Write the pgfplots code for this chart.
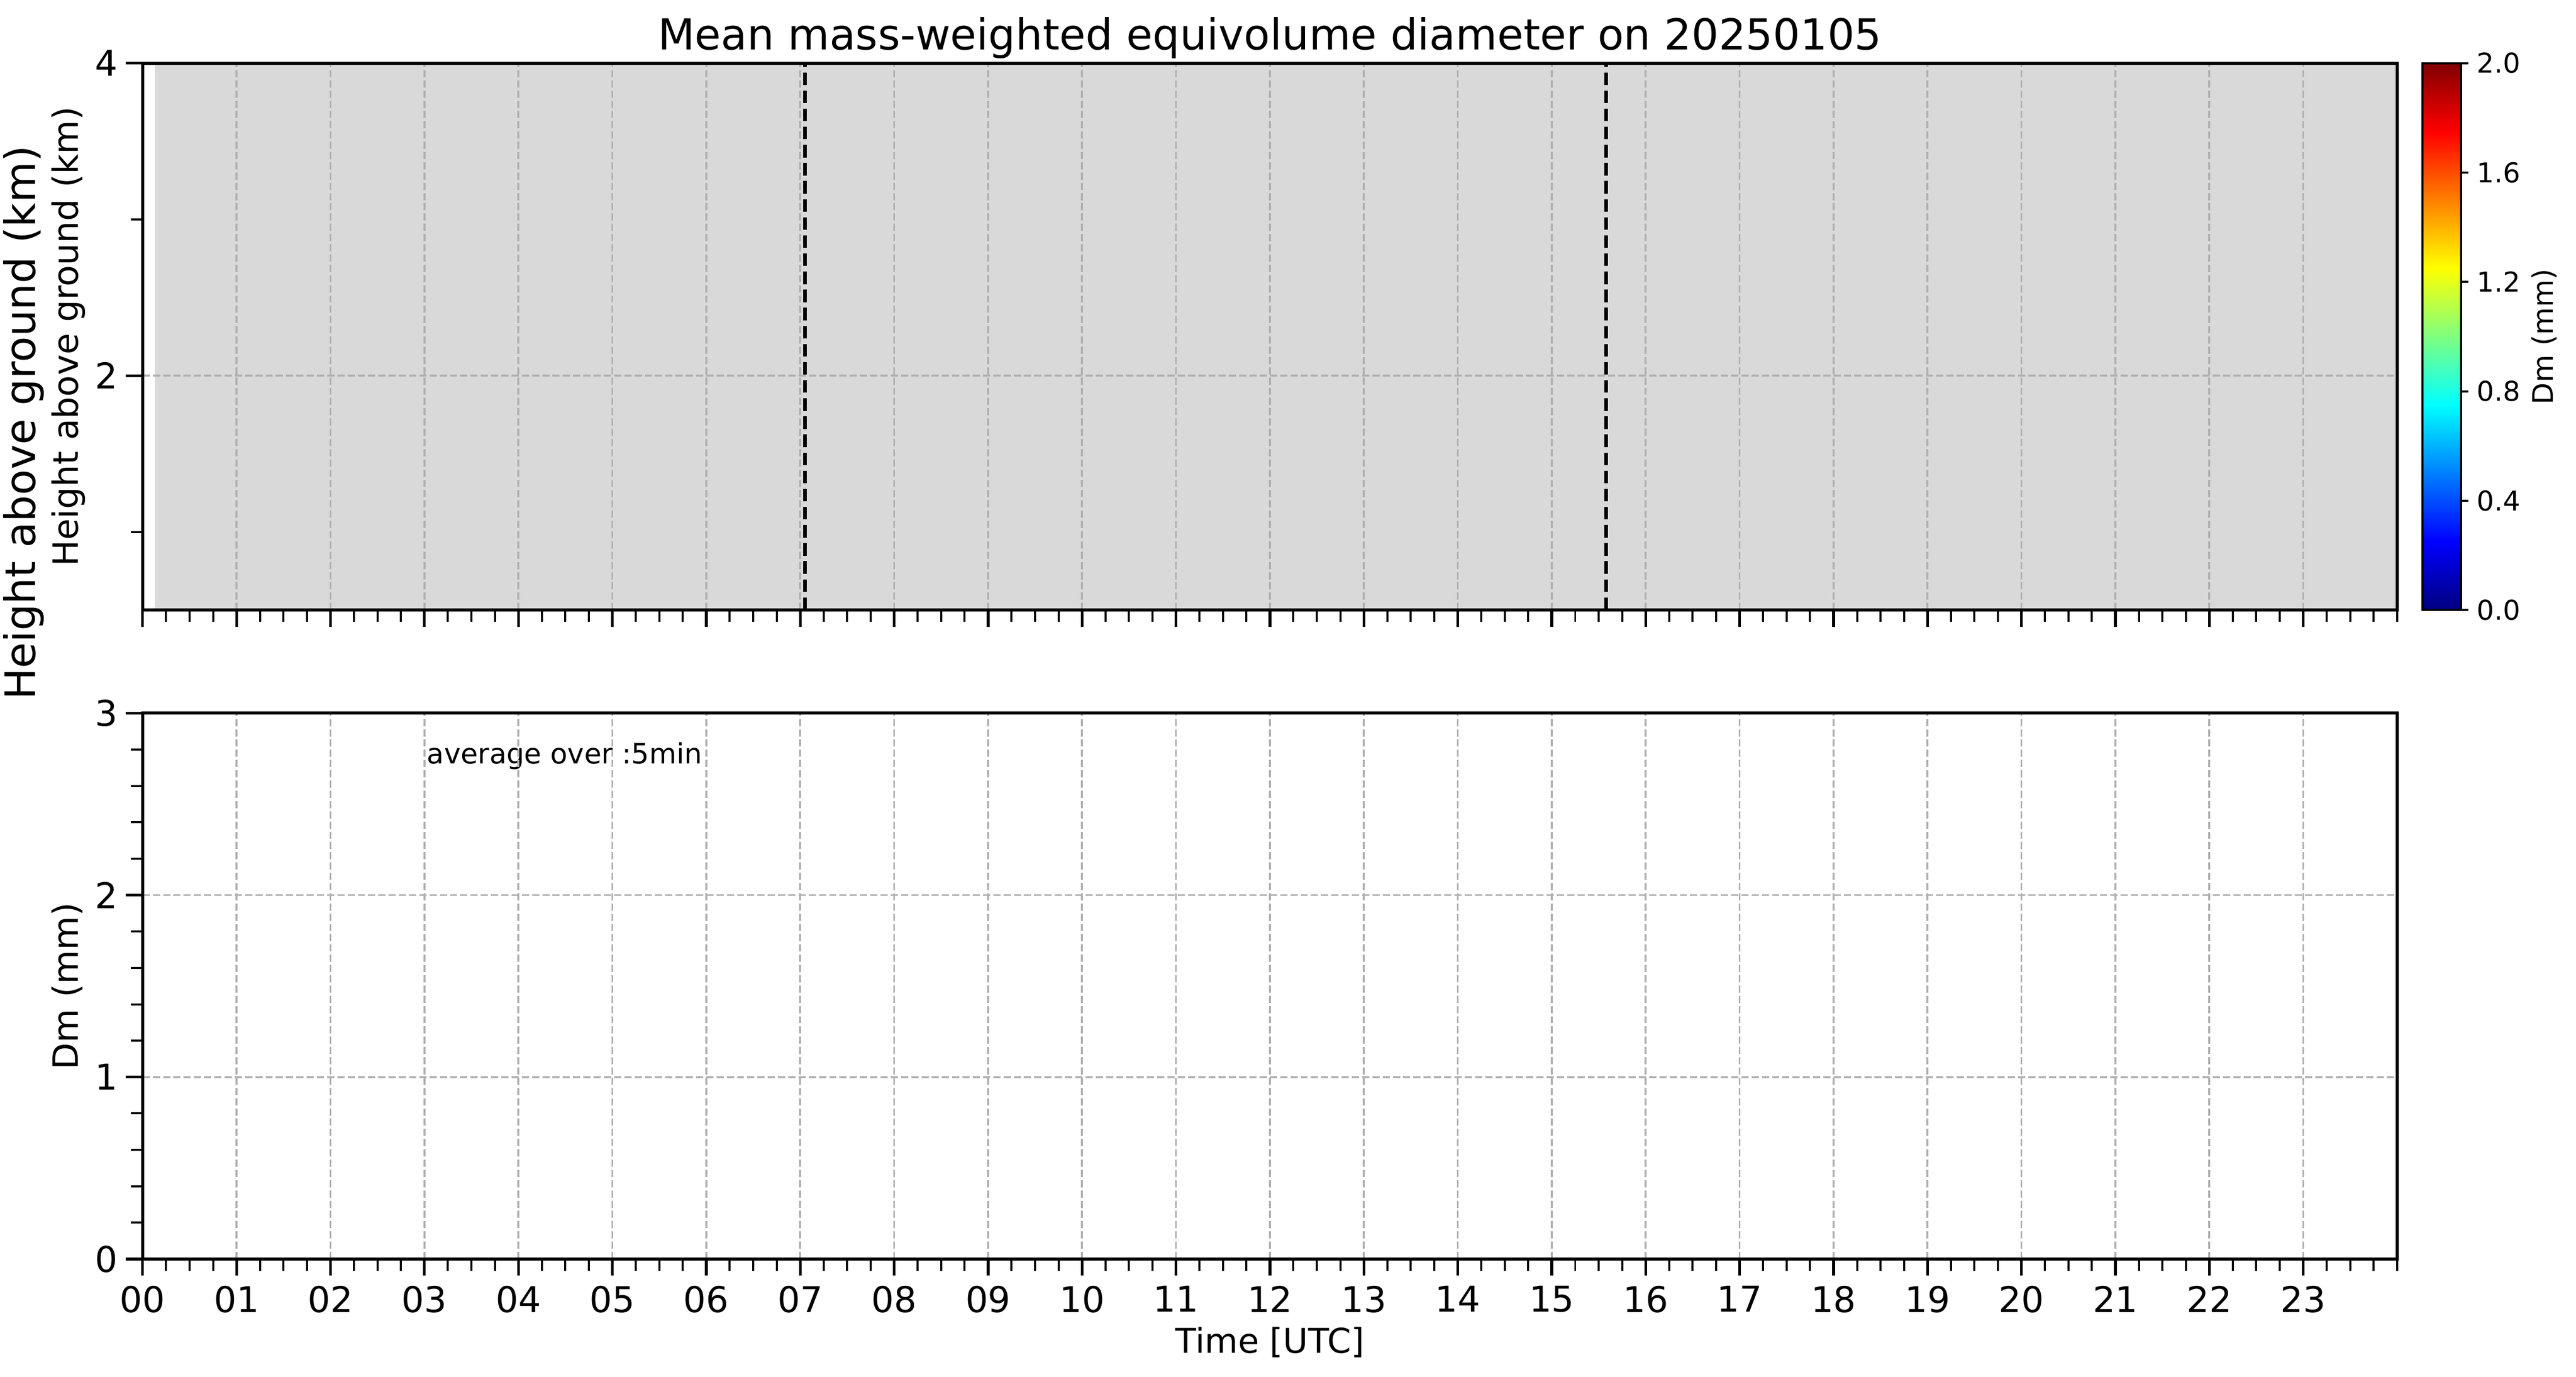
\documentclass[border=0pt]{standalone}
\usepackage{pgfplots}
\pgfplotsset{compat=1.18}
\usepackage{fontspec}
\setmainfont{DejaVu Sans}
\definecolor{bggray}{RGB}{217,217,217}
\definecolor{gridgray}{RGB}{176,176,176}
\newcommand{\fs}[1]{\fontsize{#1pt}{#1pt}\selectfont}

\pgfplotsset{
  /pgf/number format/assume math mode=true,
  panel/.style={
    scale only axis,
    width=660pt,
    xmin=0, xmax=24,
    xtick={0,1,...,23},
    minor xtick={0,0.25,...,24},
    tick align=outside,
    xtick pos=left, ytick pos=left,
    major tick length=4.9pt, minor tick length=3.5pt,
    every tick/.append style={black},
    every major tick/.append style={line width=0.8pt},
    every minor tick/.append style={line width=0.6pt},
    axis line style={line width=0.9pt, black},
    xmajorgrids, ymajorgrids,
    major grid style={gridgray, line width=0.55pt, dash pattern=on 2.1pt off 0.9pt},
    tick label style={font=\fs{10.4}},
    /pgf/number format/assume math mode=true,
    yticklabel style={inner sep=0pt, anchor=east, xshift=-2.2pt},
    xticklabel style={inner sep=0pt, anchor=north, yshift=-2.8pt},
    every axis y label/.style={at={(axis description cs:-0.02871,0.5)}, rotate=90, anchor=base, font=\fs{10.2}},
    axis on top,
  }
}

\begin{document}
\begin{tikzpicture}
\useasboundingbox (0,0) rectangle (754.1pt,-403.1pt);

\begin{axis}[panel,
  at={(41.75pt,-178.6pt)}, anchor=south west,
  height=160.1pt,
  ymin=0.5, ymax=4, ytick={2,4}, minor ytick={1,3},
  xticklabels={},
  ylabel={Height above ground (km)},
  title={Mean mass-weighted equivolume diameter on 20250105},
  every axis title/.style={at={(axis description cs:0.5,1)}, anchor=base, yshift=4pt, font=\fs{12.5}},
  colorbar, colormap/jet, point meta min=0, point meta max=2,
  colorbar shift/.style={},
  colorbar style={
    at={(parent axis.north east)}, anchor=north west, xshift=7.35pt,
    scale only axis, width=11.4pt,
    ytick={0,0.4,0.8,1.2,1.6,2},
    minor ytick={},
    ytick pos=right, yticklabel pos=right,
    tick align=outside,
    major tick length=2.1pt,
    every major tick/.append style={line width=0.6pt, black},
    axis line style={line width=0.6pt, black},
    ymajorgrids=false, xmajorgrids=false,
    yticklabel style={font=\fs{8}, inner sep=0pt, anchor=west, xshift=2.3pt,
      /pgf/number format/fixed, /pgf/number format/fixed zerofill,
      /pgf/number format/precision=1, /pgf/number format/assume math mode=true},
    every axis y label/.style={at={(axis description cs:3.36,0.5)}, rotate=90, anchor=base, font=\fs{8.3}},
    ylabel={Dm (mm)},
  },
]
\addplot[draw=none, fill=bggray] coordinates {(0.13,0.5) (24,0.5) (24,4) (0.13,4) (0.13,0.5)};
\addplot[black, line width=1pt, dash pattern=on 3.7pt off 1.6pt] coordinates {(7.05,0.5) (7.05,4)};
\addplot[black, line width=1pt, dash pattern=on 3.7pt off 1.6pt] coordinates {(15.58,0.5) (15.58,4)};
\end{axis}

\begin{axis}[panel,
  at={(41.75pt,-368.6pt)}, anchor=south west,
  height=159.8pt,
  ymin=0, ymax=3, ytick={0,1,2,3}, minor y tick num=4,
  xticklabels={00,01,02,03,04,05,06,07,08,09,10,11,12,13,14,15,16,17,18,19,20,21,22,23},
  ylabel={Dm (mm)},
  xlabel={Time [UTC]},
  every axis x label/.style={at={(axis description cs:0.5,-0.1721)}, anchor=base, font=\fs{10}},
]
\addplot[draw=none] coordinates {(0,0) (24,3)};
\node[anchor=base west, inner sep=0pt, font=\fs{8.2}] at (axis cs:3.02,2.723) {average over :5min};
\end{axis}

\node[rotate=90, anchor=base, font=\fs{12.3}] at (10.3pt,-123.8pt) {Height above ground (km)};
\end{tikzpicture}
\end{document}
